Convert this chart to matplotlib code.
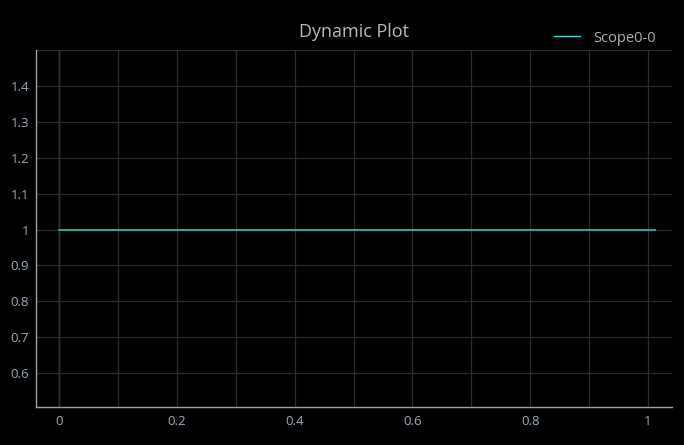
import matplotlib
matplotlib.use("Agg")
import matplotlib.pyplot as plt

# Data
series_name = "Scope0-0"
x_values = [0.0, 1.012]
y_values = [1.0, 1.0]
x_ticks = [0, 0.2, 0.4, 0.6, 0.8, 1.0]
x_tick_labels = ["0", "0.2", "0.4", "0.6", "0.8", "1"]
y_ticks = [0.6, 0.7, 0.8, 0.9, 1.0, 1.1, 1.2, 1.3, 1.4]
y_tick_labels = ["0.6", "0.7", "0.8", "0.9", "1", "1.1", "1.2", "1.3", "1.4"]
x_minor = [0.1, 0.3, 0.5, 0.7, 0.9]
y_minor = [1.5]

plt.rcParams['font.family'] = ['Open Sans', 'DejaVu Sans']

fig = plt.figure(figsize=(6.84, 4.45), dpi=100, facecolor="black")
ax = fig.add_axes([36/684, 1-407/445, (672-36)/684, (407-50)/445])
ax.set_facecolor("black")

ax.plot(x_values, y_values, color="#2fb3b3", lw=1.3, label=series_name, zorder=3)

ax.set_xlim(-0.0391, 1.0407)
ax.set_ylim(0.5056, 1.4972)
ax.set_xticks(x_ticks)
ax.set_xticklabels(x_tick_labels)
ax.set_xticks(x_minor, minor=True)
ax.set_yticks(y_ticks)
ax.set_yticklabels(y_tick_labels)
ax.set_yticks(y_minor, minor=True)

ax.grid(True, which="both", color="#2c2c2c", lw=0.9, zorder=0)
ax.axvline(0, color="#555555", lw=1.0, zorder=1)
ax.tick_params(which="both", length=0, colors="#9aaabb", labelsize=9.5)
ax.tick_params(axis="y", pad=5)
ax.tick_params(axis="x", pad=6)

for s in ["top", "right"]:
    ax.spines[s].set_visible(False)
for s in ["left", "bottom"]:
    ax.spines[s].set_color("#a0a0a0")
    ax.spines[s].set_linewidth(1.0)

fig.text(354/684, 1-32/445, "Dynamic Plot", color="#b8b8b8", fontsize=13,
         ha="center", va="center")

leg = ax.legend(loc="center right", bbox_to_anchor=(656/684, 1-38/445),
                bbox_transform=fig.transFigure, frameon=False,
                fontsize=10.5, handlelength=1.8, handletextpad=0.9,
                borderaxespad=0, borderpad=0)
for t in leg.get_texts():
    t.set_color("#b0b0b0")
for l in leg.get_lines():
    l.set_color("#40d8d8")
    l.set_linewidth(1.0)

fig.savefig("out.png", dpi=100, facecolor="black")
